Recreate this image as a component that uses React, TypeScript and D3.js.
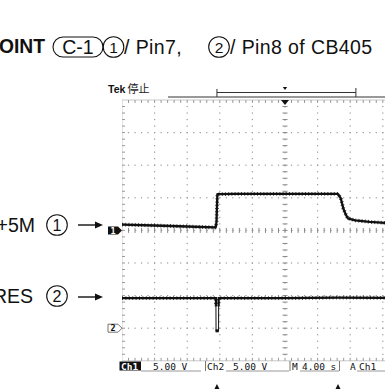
import React from "react";
import * as d3 from "d3";

// ---- data ----
// time axis: 4.00 s/div, 10 divisions
const timeDomain = [0, 40];
// CH1 (+5M) 5.00 V/div, ground at screen centre
const ch1Time = [0, 4, 8, 11.4, 11.52, 11.6, 11.7, 14, 20, 26.5, 26.85, 27.15, 27.4, 27.7, 28.6, 30.4, 32.3, 40];
const ch1Volt = [0.9, 0.75, 0.6, 0.45, 0.55, 1.4, 5.55, 5.6, 5.6, 5.6, 4.9, 3.4, 2.6, 1.85, 1.55, 1.3, 1.15, 1.0];
// CH2 (RES) 5.00 V/div, ground 3 div below centre
const ch2Time = [0, 11.52, 11.54, 11.84, 11.86, 12.0, 20, 26.5, 40];
const ch2Volt = [4.6, 4.6, -0.4, -0.4, 4.6, 4.6, 4.6, 4.7, 4.6];
// status bar labels
const statusTexts = ["Ch1", "5.00 V", "Ch2", "5.00 V", "M", "4.00 s", "A", "Ch1"];
// event markers below screen (time)
const eventTimes = [11.65, 26.5];

const W = 385;
const H = 391;
const G = { left: 122, top: 100, div: 32.6, nx: 10, ny: 8 };
const right = G.left + G.div * G.nx;
const bottom = G.top + G.div * G.ny;

export default function App() {
  const x = d3.scaleLinear().domain(timeDomain).range([G.left, right]);
  const y1 = d3.scaleLinear().domain([-20, 20]).range([bottom, G.top]);
  const y2 = d3.scaleLinear().domain([-5, 35]).range([bottom, G.top]);
  const line1 = d3.line<number>().x((_, i) => x(ch1Time[i])).y((v) => y1(v));
  const line2 = d3.line<number>().x((_, i) => x(ch2Time[i])).y((v) => y2(v));
  const p1 = line1(ch1Volt) || "";
  const p2 = line2(ch2Volt) || "";

  const cx = G.left + G.div * 5;
  const cy = G.top + G.div * 4;
  const minor = G.div / 5;

  const dots: JSX.Element[] = [];
  for (let i = 1; i < G.nx; i++) {
    if (i === 5) continue;
    const gx = G.left + i * G.div;
    for (let j = 1; j < G.ny * 5; j++) {
      dots.push(<rect key={`v${i}-${j}`} x={gx - 0.6} y={G.top + j * minor - 0.6} width={1.2} height={1.2} fill="#999" />);
    }
  }
  for (let k = 1; k < G.ny; k++) {
    if (k === 4) continue;
    const gy = G.top + k * G.div;
    for (let j = 1; j < G.nx * 5; j++) {
      dots.push(<rect key={`h${k}-${j}`} x={G.left + j * minor - 0.6} y={gy - 0.6} width={1.2} height={1.2} fill="#999" />);
    }
  }
  const ticks: JSX.Element[] = [];
  for (let j = 1; j < G.ny * 5; j++) {
    const yy = G.top + j * minor;
    ticks.push(<line key={`cv${j}`} x1={cx - 2.5} x2={cx + 2.5} y1={yy} y2={yy} stroke="#888" strokeWidth={1} />);
    ticks.push(<line key={`lv${j}`} x1={G.left} x2={G.left + 3} y1={yy} y2={yy} stroke="#999" strokeWidth={1} />);
  }
  for (let j = 1; j < G.nx * 5; j++) {
    const xx = G.left + j * minor;
    ticks.push(<line key={`ch${j}`} x1={xx} x2={xx} y1={cy - 2.5} y2={cy + 2.5} stroke="#888" strokeWidth={1} />);
    ticks.push(<line key={`th${j}`} x1={xx} x2={xx} y1={G.top} y2={G.top + 3} stroke="#999" strokeWidth={1} />);
    ticks.push(<line key={`bh${j}`} x1={xx} x2={xx} y1={bottom - 3} y2={bottom} stroke="#999" strokeWidth={1} />);
  }

  const titleFont = "'Liberation Sans', Arial, sans-serif";
  const scopeFont = "'DejaVu Sans Mono', monospace";

  const marker = (yy: number) =>
    `M${G.left - 14},${yy - 4} L${G.left - 4},${yy - 4} L${G.left},${yy} L${G.left - 4},${yy + 4} L${G.left - 14},${yy + 4} Z`;

  const circ = (cxx: number, cyy: number, label: string, fs = 15.5) => (
    <g>
      <circle cx={cxx} cy={cyy} r={10.3} fill="none" stroke="#111" strokeWidth={1.1} />
      <text x={cxx} y={cyy + fs * 0.36} textAnchor="middle" fontSize={fs} fontFamily={titleFont} fill="#111">{label}</text>
    </g>
  );
  const arrow = (yy: number) => (
    <g>
      <line x1={78} x2={98} y1={yy} y2={yy} stroke="#111" strokeWidth={1.4} />
      <path d={`M95,${yy - 3.5} L103,${yy} L95,${yy + 3.5} Z`} fill="#111" />
    </g>
  );

  const ch2y = y2(0);

  return (
    <svg width={W} height={H} style={{ position: "absolute", left: 0, top: 0, background: "#fff" }}>
      <defs>
        <clipPath id="screen">
          <rect x={G.left} y={G.top - 10} width={right - G.left} height={bottom - G.top + 20} />
        </clipPath>
        <clipPath id="band2">
          <rect x={G.left} y={y2(4.6) - 8} width={right - G.left} height={16} />
        </clipPath>
      </defs>
      <rect x={0} y={0} width={W} height={H} fill="#fff" />

      {/* title */}
      <text x={-1} y={53} fontSize={19.3} fontWeight="bold" fontFamily={titleFont} fill="#111">OINT</text>
      <rect x={53} y={37} width={50} height={20} rx={10} fill="none" stroke="#111" strokeWidth={1.1} />
      <text x={78} y={53.5} textAnchor="middle" fontSize={19.5} fontFamily={titleFont} fill="#111">C-1</text>
      {circ(113.5, 47, "1")}
      <text x={124} y={53.5} fontSize={19.5} letterSpacing={0.4} fontFamily={titleFont} fill="#111">/ Pin7,</text>
      {circ(219, 47, "2")}
      <text x={230} y={53.5} fontSize={19.5} letterSpacing={0.4} fontFamily={titleFont} fill="#111">/ Pin8 of CB405</text>

      {/* left labels */}
      <text x={35} y={232} textAnchor="end" fontSize={19.5} fontFamily={titleFont} fill="#111">+5M</text>
      {circ(57, 225, "1", 16)}
      {arrow(225)}
      <text x={33} y={303} textAnchor="end" fontSize={19.5} fontFamily={titleFont} fill="#111">RES</text>
      {circ(57, 296, "2", 16)}
      {arrow(297)}

      {/* header */}
      <text x={108} y={93} fontSize={10.5} fontWeight="bold" fontFamily={titleFont} fill="#111">Tek</text>
      <text x={127.5} y={93} fontSize={11} fontFamily="'Noto Sans CJK JP', sans-serif" fill="#222">停止</text>
      <line x1={168} x2={W} y1={97} y2={97} stroke="#333" strokeWidth={1} />
      <line x1={x(11.65)} x2={x(28.7)} y1={92.5} y2={92.5} stroke="#333" strokeWidth={1} />
      <line x1={x(11.65)} x2={x(11.65)} y1={89} y2={97} stroke="#333" strokeWidth={1} />
      <line x1={x(28.7)} x2={x(28.7)} y1={88} y2={97} stroke="#333" strokeWidth={1} />
      <path d={`M${cx - 2.2},87 L${cx + 2.2},87 L${cx},90 Z`} fill="#111" />

      {/* graticule */}
      <g clipPath="url(#screen)">
        <line x1={G.left} x2={right} y1={G.top} y2={G.top} stroke="#c8c8c8" strokeWidth={1} />
        <line x1={G.left} x2={right} y1={bottom} y2={bottom} stroke="#c8c8c8" strokeWidth={1} />
        <line x1={G.left} x2={G.left} y1={G.top} y2={bottom} stroke="#c8c8c8" strokeWidth={1} />
        {dots}
        <line x1={cx} x2={cx} y1={G.top} y2={bottom} stroke="#aaa" strokeWidth={1} strokeDasharray="1.3 5.22" />
        <line x1={G.left} x2={right} y1={cy} y2={cy} stroke="#aaa" strokeWidth={1} strokeDasharray="1.3 5.22" />
        {ticks}
        <path d={`M${cx - 4},${G.top} L${cx + 4},${G.top} L${cx},${G.top + 5} Z`} fill="#111" />

        {/* traces */}
        <path d={p1} fill="none" stroke="#111" strokeWidth={2.3} strokeLinejoin="round" />
        <path d={p1} fill="none" stroke="#111" strokeWidth={3.8} strokeDasharray="1 2.2" opacity={0.75} />
        <path d={p2} fill="none" stroke="#222" strokeWidth={1.1} />
        <g clipPath="url(#band2)">
          <path d={p2} fill="none" stroke="#111" strokeWidth={2.2} />
          <path d={p2} fill="none" stroke="#111" strokeWidth={3.8} strokeDasharray="1 2.4" opacity={0.75} />
        </g>
        <rect x={x(11.54) - 0.5} y={y2(-0.4) - 1.5} width={3.2} height={3} fill="#111" />
      </g>

      {/* channel markers */}
      <path d={marker(y1(0))} fill="#111" />
      <text x={G.left - 9} y={y1(0) + 3.2} textAnchor="middle" fontSize={8.5} fontWeight="bold" fontFamily={scopeFont} fill="#fff">1</text>
      <path d={marker(ch2y)} fill="#fff" stroke="#666" strokeWidth={0.9} />
      <text x={G.left - 9} y={ch2y + 3.2} textAnchor="middle" fontSize={8.5} fontWeight="bold" fontFamily={scopeFont} fill="#111">2</text>

      {/* status bar */}
      <rect x={119.5} y={361.5} width={21.5} height={9} fill="#111" />
      <text x={121} y={369.5} fontSize={9.5} fontWeight="bold" fontFamily={scopeFont} fill="#fff">{statusTexts[0]}</text>
      <text x={153} y={369.5} fontSize={9.5} fontFamily={scopeFont} fill="#111">{statusTexts[1]}</text>
      <line x1={141} x2={201} y1={371} y2={371} stroke="#999" strokeWidth={1} />
      <line x1={205.5} x2={205.5} y1={361} y2={371} stroke="#777" strokeWidth={1} />
      <text x={207} y={369.5} fontSize={9.5} fontFamily={scopeFont} fill="#111">{statusTexts[2]}</text>
      <text x={233} y={369.5} fontSize={9.5} fontFamily={scopeFont} fill="#111">{statusTexts[3]}</text>
      <line x1={226} x2={289} y1={371} y2={371} stroke="#999" strokeWidth={1} />
      <line x1={290} x2={290} y1={361} y2={371} stroke="#777" strokeWidth={1} />
      <text x={292} y={369.5} fontSize={9.5} fontFamily={scopeFont} fill="#111">{statusTexts[4]}</text>
      <text x={302} y={369.5} fontSize={9.5} fontFamily={scopeFont} fill="#111">{statusTexts[5]}</text>
      <line x1={300} x2={339} y1={371} y2={371} stroke="#999" strokeWidth={1} />
      <line x1={339.5} x2={339.5} y1={361} y2={371} stroke="#777" strokeWidth={1} />
      <text x={350} y={369.5} fontSize={9.5} fontFamily={scopeFont} fill="#111">{statusTexts[6]}</text>
      <text x={359} y={369.5} fontSize={9.5} fontFamily={scopeFont} fill="#111">{statusTexts[7]}</text>
      <line x1={357} x2={W} y1={371} y2={371} stroke="#999" strokeWidth={1} />

      {/* event markers */}
      {eventTimes.map((t, i) => (
        <path key={i} d={`M${x(t)},384 L${x(t) + 2.5},389 L${x(t) - 2.5},389 Z`} fill="#111" />
      ))}
    </svg>
  );
}
